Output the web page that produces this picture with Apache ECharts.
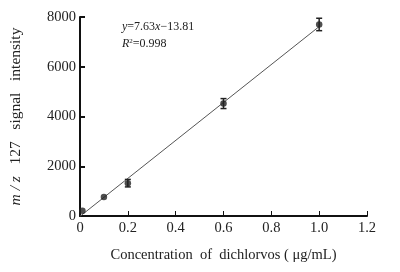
<!DOCTYPE html>
<html><head><meta charset="utf-8">
<script src="https://cdn.jsdelivr.net/npm/echarts@6/dist/echarts.min.js"></script>
<style>html,body{margin:0;padding:0;background:#fff}#c{width:400px;height:272px}</style>
</head><body><div id="c"></div>
<script>
var concentrations = [0.01, 0.1, 0.2, 0.6, 1.0];
var intensities = [210, 760, 1320, 4520, 7700];
var errors = [0, 0, 150, 200, 250];
var fitSlope = 7630;
var fitIntercept = -13.81;
var fitRange = [0, 1.0];
var xTicks = [0, 0.2, 0.4, 0.6, 0.8, 1.0, 1.2];
var yTicks = [0, 2000, 4000, 6000, 8000];

var pts = concentrations.map(function(c,i){return [c, intensities[i]];});
var errData = concentrations.map(function(c,i){return [c, intensities[i]-errors[i], intensities[i]+errors[i]];}).filter(function(d){return d[2]>d[1];});
var fitLine = fitRange.map(function(x){return [x, fitSlope*x+fitIntercept];});
var serif = 'Liberation Serif';
var chart = echarts.init(document.getElementById('c'));
chart.setOption({
  animation:false,
  grid:{left:80,right:33,top:17,bottom:56},
  xAxis:{type:'value',min:0,max:1.2,interval:0.2,
    axisLine:{lineStyle:{color:'#111',width:2}},
    axisTick:{inside:true,length:5,lineStyle:{color:'#111',width:1}},
    splitLine:{show:false},
    axisLabel:{color:'#222',fontFamily:serif,fontSize:14.5,margin:5,
      formatter:function(v){return v===0?'0':v.toFixed(1);}},
    name:'Concentration  of  dichlorvos ( μg/mL)',nameLocation:'middle',nameGap:32,
    nameTextStyle:{color:'#222',fontFamily:serif,fontSize:14.5}
  },
  yAxis:{type:'value',min:0,max:8000,interval:2000,
    axisLine:{lineStyle:{color:'#111',width:2}},
    axisTick:{inside:true,length:5,lineStyle:{color:'#111',width:2}},
    splitLine:{show:false},
    axisLabel:{color:'#222',fontFamily:serif,fontSize:14.5,margin:4,
      formatter:function(v){return String(v);}},
    name:'{i|m / z}   127   signal   intensity',nameLocation:'middle',nameGap:56,
    nameTextStyle:{color:'#222',fontFamily:serif,fontSize:15.5,
      rich:{i:{fontStyle:'italic',fontFamily:serif,fontSize:15.5,color:'#222'}}}
  },
  series:[
    {type:'line',data:fitLine,symbol:'none',lineStyle:{color:'#555',width:1},z:1},
    {type:'scatter',data:pts,symbolSize:6.5,itemStyle:{color:'#222'},z:3},
    {type:'custom',data:errData,z:2,
      renderItem:function(params,api){
        var x=api.value(0);
        var lo=api.coord([x,api.value(1)]);
        var hi=api.coord([x,api.value(2)]);
        var w=3;
        var st={stroke:'#222',lineWidth:1.5};
        return {type:'group',children:[
          {type:'line',shape:{x1:lo[0],y1:lo[1],x2:hi[0],y2:hi[1]},style:st},
          {type:'line',shape:{x1:lo[0]-w,y1:lo[1],x2:lo[0]+w,y2:lo[1]},style:st},
          {type:'line',shape:{x1:hi[0]-w,y1:hi[1],x2:hi[0]+w,y2:hi[1]},style:st}
        ]};
      }}
  ],
  graphic:[
    {type:'text',left:122,top:21,style:{rich:{i:{fontStyle:'italic',fontFamily:serif,fontSize:12,fill:'#222'},n:{fontFamily:serif,fontSize:12,fill:'#222'}},
      text:'{i|y}{n|=7.63}{i|x}{n|−13.81}'}},
    {type:'text',left:122,top:38,style:{rich:{i:{fontStyle:'italic',fontFamily:serif,fontSize:12,fill:'#222'},n:{fontFamily:serif,fontSize:12,fill:'#222'},s:{fontFamily:serif,fontSize:7,fill:'#222',verticalAlign:'top',padding:[0,0,5,0]}},
      text:'{i|R}{s|2}{n|=0.998}'}}
  ]
});
</script></body></html>
